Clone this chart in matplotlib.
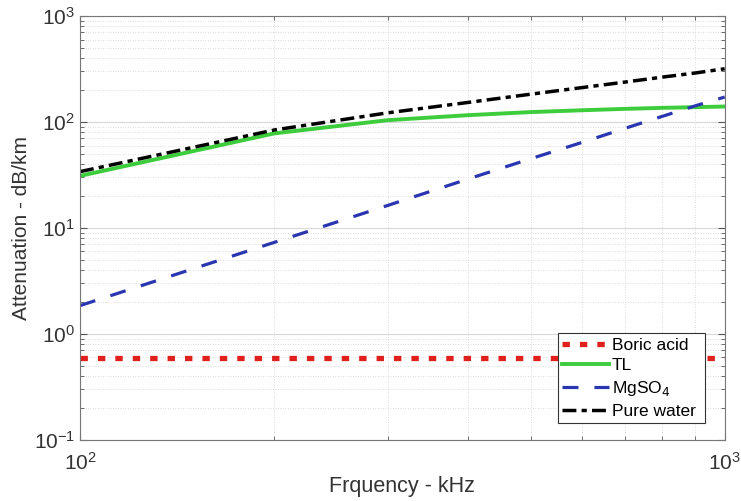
import numpy as np
import matplotlib
matplotlib.use("Agg")
import matplotlib.pyplot as plt
from matplotlib.ticker import NullFormatter

plt.rcParams["font.family"] = ["Liberation Sans", "DejaVu Sans"]

freq_khz = [100, 200, 300, 400, 500, 600, 700, 800, 900, 1000]
boric_acid = [0.59, 0.59, 0.59, 0.59, 0.59, 0.59, 0.59, 0.59, 0.59, 0.59]
tl = [31, 78, 104, 116, 124, 129, 133, 136, 138, 140]
mgso4 = [1.85, 7.3, 16.3, 29, 45, 64, 87, 113, 142, 172]
pure_water = [34, 84, 122, 153, 183, 211, 238, 265, 290, 318]


def main():
    fig = plt.figure(figsize=(7.41, 5.01), dpi=100)
    ax = fig.add_axes([0.108, 0.122, 0.87, 0.846])

    ax.plot(freq_khz, boric_acid, color="#e0201c", linestyle=(0, (1.4, 1.9)),
            linewidth=3.8, label="Boric acid")
    ax.plot(freq_khz, tl, color="#3ccc3c", linewidth=2.8, label="TL")
    ax.plot(freq_khz, mgso4, color="#2a35b0", linestyle=(0, (5, 5)),
            linewidth=2.3, label="MgSO$_4$")
    ax.plot(freq_khz, pure_water, color="black", linestyle=(0, (4, 1.5, 1.5, 1.5)),
            linewidth=2.5, label="Pure water")

    ax.set_xscale("log")
    ax.set_yscale("log")
    ax.set_xlim(100, 1000)
    ax.set_ylim(0.1, 1000)
    ax.xaxis.set_minor_formatter(NullFormatter())
    ax.yaxis.set_minor_formatter(NullFormatter())

    ax.grid(True, which="major", color="#d8d8d8", linewidth=0.8)
    ax.grid(True, which="minor", color="#d0d0d0", linestyle=(0, (1, 2)), linewidth=0.6)
    ax.set_axisbelow(True)

    ax.tick_params(which="both", direction="in", top=True, right=True,
                   colors="#555555", labelcolor="#333333", labelsize=15)
    ax.tick_params(which="major", length=5)
    ax.tick_params(which="minor", length=3)
    ax.tick_params(axis="x", which="major", pad=9)
    for sp in ax.spines.values():
        sp.set_color("#777777")

    ax.set_xlabel("Frquency - kHz", fontsize=15.5, color="#333333", labelpad=1)
    ax.set_ylabel("Attenuation - dB/km", fontsize=15, color="#333333", labelpad=2)

    leg = ax.legend(loc="lower right", bbox_to_anchor=(0.741, 0.04, 0.229, 0.2),
                    mode="expand", fontsize=12.5,
                    handlelength=2.7, handletextpad=0.15, borderpad=0.25,
                    labelspacing=0.32, fancybox=False, framealpha=1,
                    edgecolor="#333333", borderaxespad=0.0)
    leg.get_frame().set_linewidth(0.8)

    fig.savefig("out.png", dpi=100)


if __name__ == "__main__":
    main()
